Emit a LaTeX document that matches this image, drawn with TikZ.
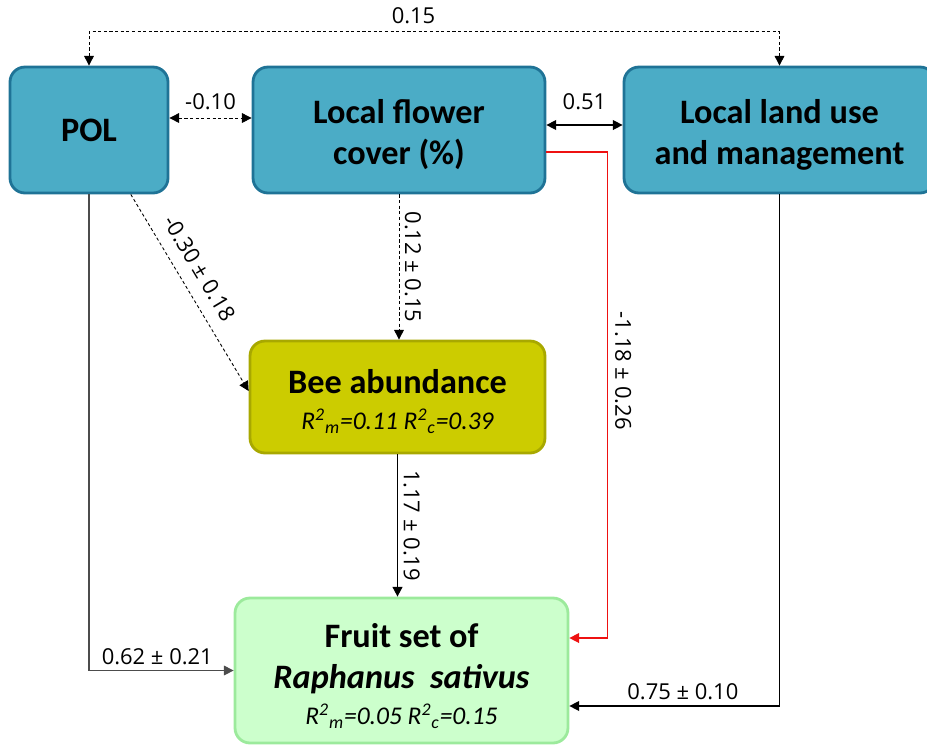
\documentclass[tikz,border=0pt]{standalone}
\usepackage{fontspec}
\setmainfont{Carlito}
\newfontfamily\pathfont{Open Sans}
\usetikzlibrary{arrows.meta,calc}
\definecolor{factorfill}{HTML}{4BACC6}
\definecolor{factorline}{HTML}{1F7396}
\definecolor{beefill}{HTML}{CCCC00}
\definecolor{beeline}{HTML}{A8A800}
\definecolor{fruitfill}{HTML}{CCFFCC}
\definecolor{fruitline}{HTML}{9CEA9C}
\definecolor{negred}{HTML}{EE1111}
\newcommand\rsq[1]{R\textsuperscript{2}\textsubscript{#1}}
\newcommand\fitstats[1]{{\fontsize{14.5}{16}\selectfont\itshape\mdseries #1}}
% taller first line, pushes a block of text a little lower in its box
\newcommand\toppad[1]{\rule{0pt}{#1}}
\tikzset{
  box/.style={
    line width=1.6pt,
    rounded corners=8.5pt,
    align=center,
    inner sep=0pt,
    font=\fontsize{19.5}{23.5}\selectfont\bfseries
  },
  factor/.style={box, draw=factorline, fill=factorfill},
  beebox/.style={box, draw=beeline, fill=beefill},
  fruitbox/.style={box, draw=fruitline, fill=fruitfill},
  lbl/.style={font=\pathfont\fontsize{12.5}{12.5}\selectfont, inner sep=1pt},
  tip/.style={-{Triangle[length=5.5pt,width=5.5pt]}},
  twoway/.style={{Triangle[length=5.5pt,width=5.5pt]}-{Triangle[length=5.5pt,width=5.5pt]}},
  path/.style={line width=0.6pt, tip},
  dashpath/.style={line width=0.5pt, dash pattern=on 1.8pt off 1.4pt}
}
\begin{document}
\begin{tikzpicture}[x=0.02cm,y=-0.02cm]
  \useasboundingbox (0,0) rectangle (927,745);

  % the three landscape factors
  \node[factor, minimum width=3.16cm, minimum height=2.52cm] (pol) at (89,130) {POL};
  \node[factor, minimum width=5.84cm, minimum height=2.52cm] (lfc) at (399,130)
    {\toppad{19pt}Local flower\\cover (\%)};
  \node[factor, minimum width=6.22cm, minimum height=2.52cm] (llu) at (779.5,130)
    {\toppad{19pt}Local land use\\and management};

  % responses
  \node[beebox, minimum width=5.9cm, minimum height=2.24cm] (bee) at (397.5,397)
    {\toppad{19pt}Bee abundance\\[-3pt]\fitstats{\rsq{m}=0.11 \rsq{c}=0.39}};
  \node[fruitbox, minimum width=6.66cm, minimum height=2.9cm] (fruit) at (401.5,670.5)
    {\toppad{20pt}Fruit set of\\\textit{Raphanus\ \ sativus}\\[-3pt]\fitstats{\rsq{m}=0.05 \rsq{c}=0.15}};

  % correlations between factors
  \draw[dashpath, twoway] (pol.north) -- ++(0,-34) -| (llu.north)
    node[lbl, pos=0.235, above=3pt] (c-top) {0.15};
  \draw[dashpath, twoway] ([yshift=0.24cm]pol.east) -- ([yshift=0.24cm]lfc.west)
    node[lbl, midway, above=3.5pt] (c-left) {-0.10};
  \draw[line width=0.8pt, twoway] ([yshift=0.1cm]lfc.east) -- ([yshift=0.1cm]llu.west)
    node[lbl, midway, above=7.5pt] (c-right) {0.51};

  % path coefficients
  \draw[dashpath, tip] ($(pol.south)!0.52!(pol.south east)$) -- ([yshift=0.12cm]bee.west)
    node[lbl, pos=0.43, sloped, above=6pt] (p-pol-bee) {-0.30 ± 0.18};
  \draw[dashpath, tip] (lfc.south) -- (lfc.south |- bee.north)
    node[lbl, midway, sloped, above=2pt] (p-lfc-bee) {0.12 ± 0.15};
  \draw[line width=1pt, tip] (bee.south) -- (bee.south |- fruit.north)
    node[lbl, midway, sloped, above=2pt] (p-bee-fruit) {1.17 ± 0.19};
  \draw[negred, line width=0.8pt, tip] ([yshift=-0.44cm]lfc.east) -- ++(61,0) |- ([yshift=0.65cm]fruit.east)
    node[lbl, text=black, pos=0.225, sloped, above=3pt] (p-lfc-fruit) {-1.18 ± 0.26};
  \draw[black!70, path] (pol.south) |- (fruit.west)
    node[lbl, text=black, pos=0.736, above=2pt] (p-pol-fruit) {0.62 ± 0.21};
  \draw[line width=0.8pt, tip] (llu.south) |- ([yshift=-0.71cm]fruit.east)
    node[lbl, pos=0.73, above=2pt] (p-llu-fruit) {0.75 ± 0.10};
\end{tikzpicture}
\end{document}
